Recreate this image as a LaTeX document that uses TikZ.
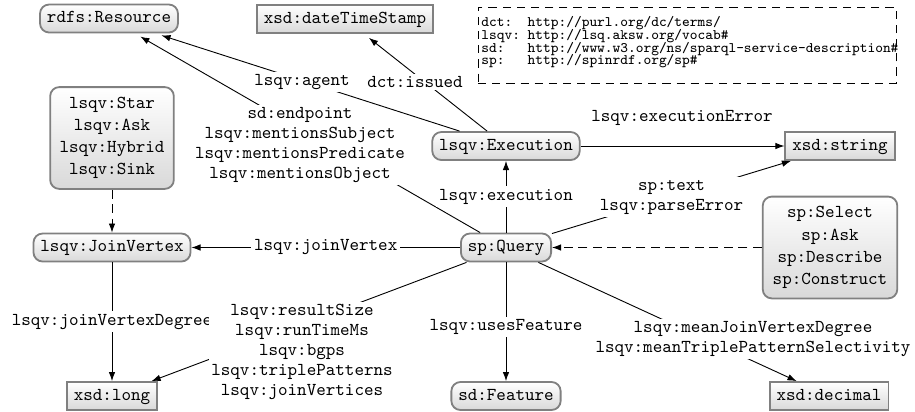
\documentclass[tikz,border=0pt]{standalone}
\usetikzlibrary{arrows.meta}
\newcommand\pfxfont{\ttfamily\fontsize{8pt}{7pt}\selectfont\lineskiplimit -100pt\relax}
\begin{document}
\begin{tikzpicture}[x=0.55pt,y=-0.55pt,
  base/.style={draw=gray, line width=1pt, top color=white, bottom color=gray!30,
    font=\ttfamily, inner xsep=3.8pt, inner ysep=2pt, align=center},
  sgl/.style={text height=6.3pt, text depth=1.9pt, minimum height=15.4pt},
  cls/.style={base, sgl, rounded corners=5pt},
  lit/.style={base, sgl},
  multi/.style={base, rounded corners=5pt, font=\ttfamily\fontsize{10pt}{12.2pt}\selectfont},
  lbl/.style={fill=white, font=\ttfamily\fontsize{10pt}{11pt}\selectfont, align=center, inner sep=1.5pt},
  plain/.style={font=\ttfamily\fontsize{10pt}{11pt}\selectfont, align=center, inner sep=1.5pt},
  edge/.style={-{Latex[length=5pt,width=3.6pt]}, line width=0.5pt},
  dedge/.style={edge, dash pattern=on 5pt off 3pt},
]
\useasboundingbox (0,0) rectangle (915,411);

% nodes
\node[cls] (res) at (109,18.5) {rdfs:Resource};
\node[lit] (dts) at (345,19) {xsd:dateTimeStamp};
\node[cls] (exec) at (506,146) {lsqv:Execution};
\node[lit] (str) at (840,146) {xsd:string};
\node[multi, minimum width=68pt, minimum height=56pt] (star) at (112,138)
  {lsqv:Star\\lsqv:Ask\\lsqv:Hybrid\\lsqv:Sink};
\node[cls] (jv) at (112,247.5) {lsqv:JoinVertex};
\node[lit] (long) at (112,396) {xsd:long};
\node[cls] (q) at (506,247.5) {sp:Query};
\node[multi, minimum width=74pt, minimum height=56pt] (sel) at (830,247.5)
  {sp:Select\\sp:Ask\\sp:Describe\\sp:Construct};
\node[cls] (feat) at (506,396) {sd:Feature};
\node[lit] (dec) at (829,396) {xsd:decimal};

% prefix box
\node[draw, line width=0.4pt, dash pattern=on 4.5pt off 3.3pt, inner sep=0,
  minimum width=229.9pt, minimum height=41.8pt] (pfx) at (687,45) {};
\node[anchor=west, inner sep=0, align=left, font=\pfxfont] (pfxt) at (481,42.5)
  {dct:~~http://purl.org/dc/terms/\\
   lsqv:~http://lsq.aksw.org/vocab\#\\
   sd:~~~http://www.w3.org/ns/sparql-service-description\#\\
   sp:~~~http://spinrdf.org/sp\#};

% edges
\draw[edge, shorten >=3.5pt] (q) -- (res);
\node[lbl] (lend) at (300,145)
  {sd:endpoint\\lsqv:mentionsSubject\\lsqv:mentionsPredicate\\lsqv:mentionsObject};
\draw[edge, shorten >=3.5pt] (exec) -- (res);
\node[lbl] (lagent) at (302,82) {lsqv:agent};
\draw[edge, shorten >=3.5pt] (exec) -- (dts);
\node[lbl] (lissued) at (415,82) {dct:issued};

\draw[edge] (exec) -- (str);
\node[plain] (lerr) at (682,118) {lsqv:executionError};

\draw[edge] (q) -- node[lbl] (lexec) {lsqv:execution} (exec);
\draw[edge] (q) -- node[lbl] (ltext) {sp:text\\lsqv:parseError} (str);
\draw[edge] (q) -- node[lbl] (ljv) {lsqv:joinVertex} (jv);
\draw[edge] (jv) -- node[lbl] (ljvd) {lsqv:joinVertexDegree} (long);

\draw[edge] (q) -- (long);
\node[lbl] (lsize) at (302,352)
  {lsqv:resultSize\\lsqv:runTimeMs\\lsqv:bgps\\lsqv:triplePatterns\\lsqv:joinVertices};
\draw[edge] (q) -- (feat);
\node[lbl] (lfeat) at (506,327) {lsqv:usesFeature};
\draw[edge] (q) -- (dec);
\node[lbl] (lmean) at (753,339)
  {lsqv:meanJoinVertexDegree\\lsqv:meanTriplePatternSelectivity};

\draw[dedge] (star) -- (jv);
\draw[dedge] (sel) -- (q);
\end{tikzpicture}
\end{document}
